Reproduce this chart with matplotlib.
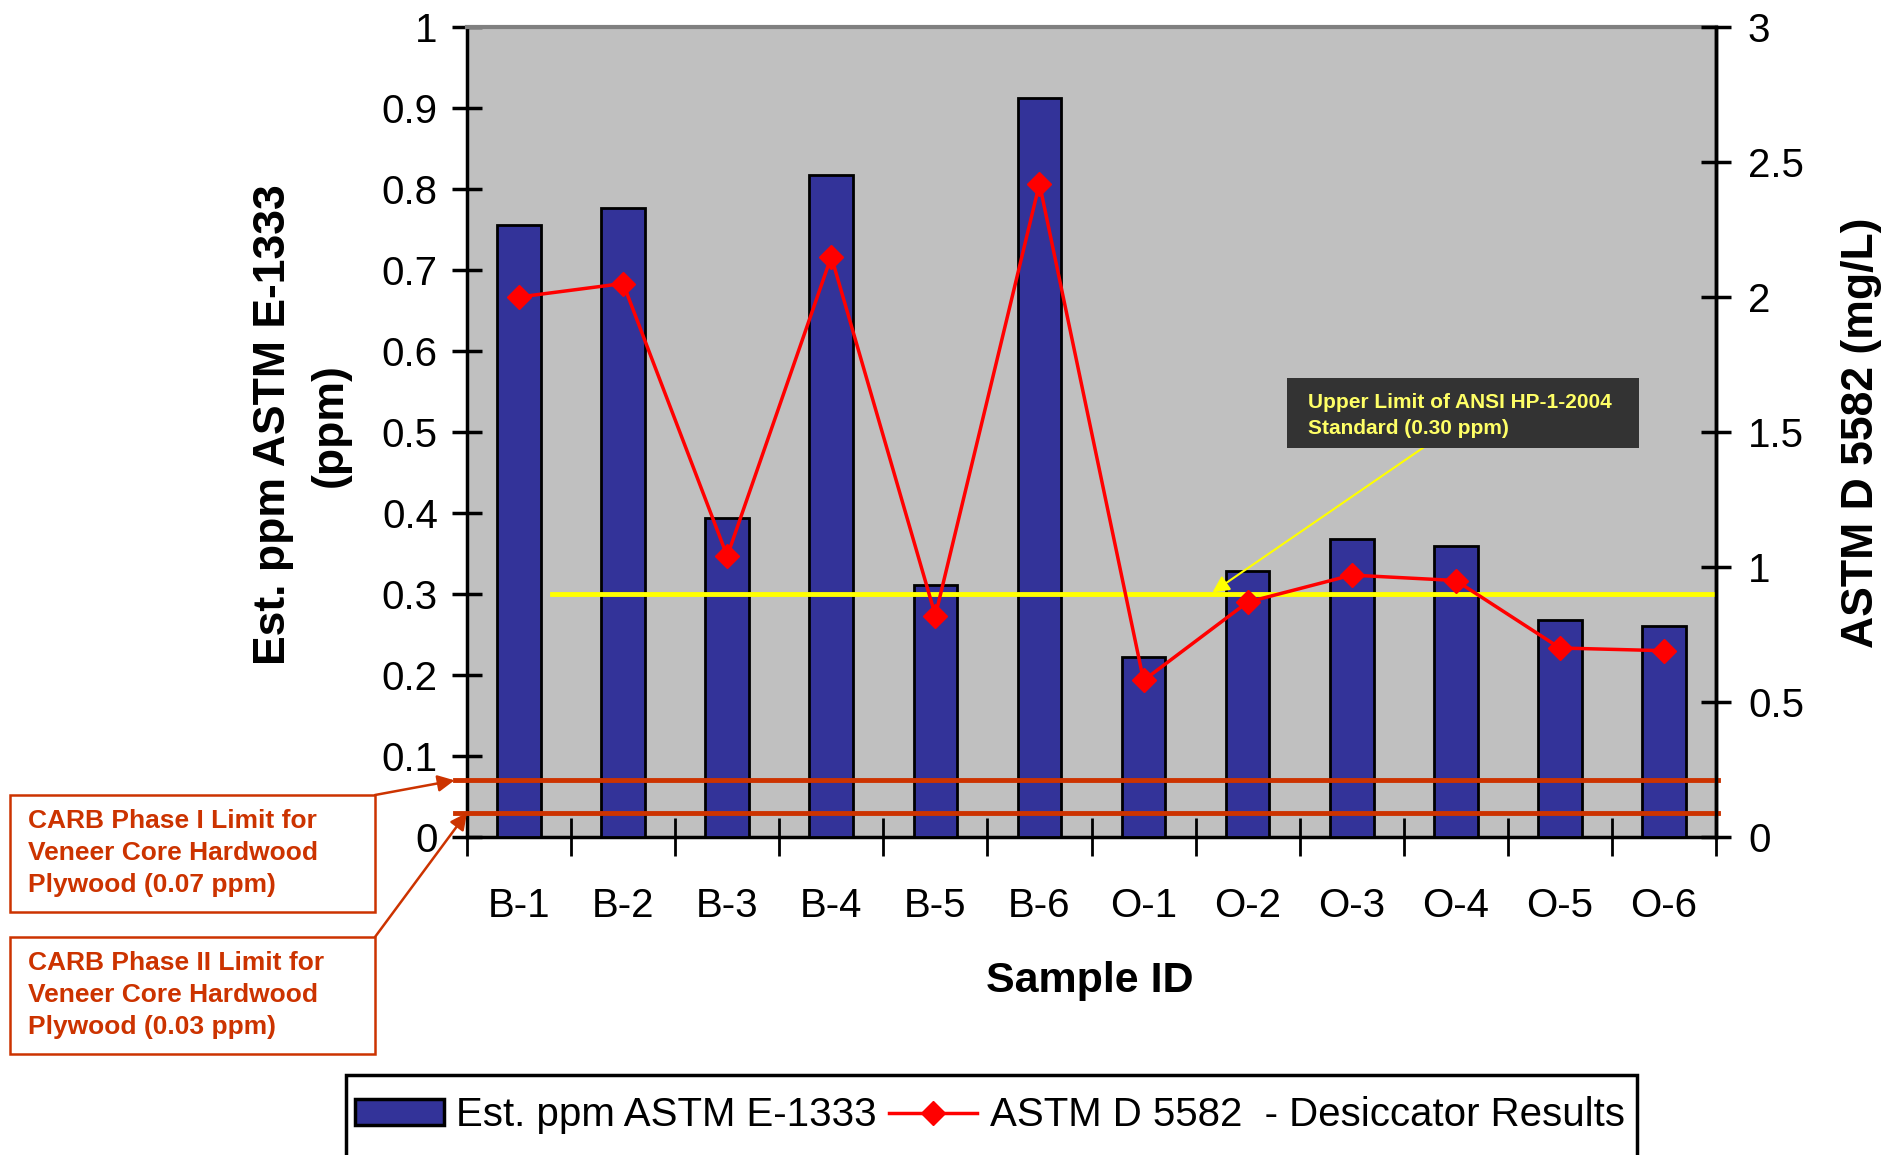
import matplotlib
matplotlib.use('Agg')
import matplotlib.pyplot as plt
from matplotlib import font_manager
from matplotlib.patches import Rectangle, Patch
from matplotlib.lines import Line2D
import numpy as np

# --- data ---
samples = ['B-1', 'B-2', 'B-3', 'B-4', 'B-5', 'B-6',
           'O-1', 'O-2', 'O-3', 'O-4', 'O-5', 'O-6']
est_ppm = [0.756, 0.777, 0.394, 0.817, 0.311, 0.912,
           0.222, 0.329, 0.368, 0.359, 0.268, 0.260]
desiccator = [2.00, 2.05, 1.04, 2.15, 0.82, 2.42,
              0.58, 0.87, 0.97, 0.95, 0.70, 0.69]
left_ticks = [0, 0.1, 0.2, 0.3, 0.4, 0.5, 0.6, 0.7, 0.8, 0.9, 1]
right_ticks = [0, 0.5, 1, 1.5, 2, 2.5, 3]
ansi_limit = 0.30
carb_phase1 = 0.07
carb_phase2 = 0.03

# narrow font for numbers / legend if available
def pick(fam, fallback):
    try:
        font_manager.findfont(fam, fallback_to_default=False)
        return fam
    except Exception:
        return fallback

narrow = pick('Liberation Sans Narrow', 'Liberation Sans')
bold_fam = pick('Liberation Sans', 'DejaVu Sans')
num_size = 33 if narrow == 'Liberation Sans Narrow' else 29

plt.rcParams['font.family'] = [bold_fam, 'DejaVu Sans']

W, H = 1904, 1155
fig = plt.figure(figsize=(W / 100, H / 100), dpi=100)
ax = fig.add_axes([467 / W, 1 - 837 / H, (1716 - 467) / W, (837 - 27) / H])
ax.set_facecolor('#C0C0C0')

x = np.arange(len(samples))
ax.bar(x, est_ppm, width=0.42, color='#333399', edgecolor='black', lw=2, zorder=3)
ax.set_xlim(-0.5, len(samples) - 0.5)
ax.set_ylim(0, 1)

ax.set_yticks(left_ticks)
ax.set_yticklabels([f'{v:g}' for v in left_ticks], fontfamily=narrow, fontsize=num_size)
ax.set_xticks(x)
ax.set_xticklabels(samples, fontfamily=narrow, fontsize=num_size)
ax.tick_params(axis='x', length=0, pad=36)
ax.set_xticks(np.arange(-0.5, len(samples), 1.0), minor=True)
ax.tick_params(axis='x', which='minor', direction='inout', length=28, width=2)
ax.tick_params(axis='y', direction='inout', length=22, width=2.5, pad=10)

for s in ['left', 'bottom', 'right']:
    ax.spines[s].set_linewidth(2.5)
ax.spines['top'].set_color('#808080')
ax.spines['top'].set_linewidth(3)

# limit lines
ax.plot([0.32, 11.5], [ansi_limit, ansi_limit], color='#FFFF00', lw=3.5, zorder=4)
for lim in (carb_phase1, carb_phase2):
    ax.plot([-0.62, 11.52], [lim, lim], color='#CC3300', lw=3.5, zorder=4, clip_on=False)

ax2 = ax.twinx()
ax2.plot(x, desiccator, color='#FF0000', lw=2.5, marker='D', markersize=12, zorder=5)
ax2.set_ylim(0, 3)
ax2.set_yticks(right_ticks)
ax2.set_yticklabels([f'{v:g}' for v in right_ticks], fontfamily=narrow, fontsize=num_size)
ax2.tick_params(axis='y', direction='inout', length=22, width=2.5, pad=12)
ax2.spines['right'].set_linewidth(2.5)
ax2.spines['top'].set_visible(False)
ax2.spines['left'].set_visible(False)
ax2.spines['bottom'].set_visible(False)

# axis titles
fig.text(273 / W, 1 - 425 / H, 'Est. ppm ASTM E-1333', rotation=90, ha='center', va='center',
         fontsize=32, fontweight='bold')
fig.text(330 / W, 1 - 425 / H, '(ppm)', rotation=90, ha='center', va='center',
         fontsize=32, fontweight='bold')
fig.text(1862 / W, 1 - 433 / H, 'ASTM D 5582 (mg/L)', rotation=90, ha='center', va='center',
         fontsize=32, fontweight='bold')
fig.text(1090 / W, 1 - 981 / H, 'Sample ID', ha='center', va='center',
         fontsize=31, fontweight='bold')

# ANSI callout
fig.patches.append(Rectangle((1287 / W, 1 - 448 / H), (1639 - 1287) / W, 70 / H,
                             transform=fig.transFigure, fc='#333333', ec='none', zorder=6))
fig.text(1308 / W, 1 - 402 / H, 'Upper Limit of ANSI HP-1-2004', color='#FFFF66',
         fontsize=15, fontweight='bold', va='center', zorder=7)
fig.text(1308 / W, 1 - 428 / H, 'Standard (0.30 ppm)', color='#FFFF66',
         fontsize=15, fontweight='bold', va='center', zorder=7)
ax.annotate('', xy=(6.64, ansi_limit), xycoords='data',
            xytext=(1430, H - 443), textcoords='figure pixels',
            arrowprops=dict(arrowstyle='-|>', color='#FFFF00', lw=1.5, mutation_scale=25),
            zorder=6)

# CARB callouts
carb_boxes = [
    (795, ['CARB Phase I Limit for', 'Veneer Core Hardwood', 'Plywood (0.07 ppm)'], (-0.62, carb_phase1)),
    (937, ['CARB Phase II Limit for', 'Veneer Core Hardwood', 'Plywood (0.03 ppm)'], (-0.5, carb_phase2)),
]
for top, lines, tip in carb_boxes:
    fig.patches.append(Rectangle((10 / W, 1 - (top + 117) / H), 365 / W, 117 / H,
                                 transform=fig.transFigure, fc='white', ec='#CC3300',
                                 lw=1.8, zorder=6))
    for i, line in enumerate(lines):
        fig.text(28 / W, 1 - (top + 26 + i * 32) / H, line, color='#CC3300',
                 fontsize=19, fontweight='bold', va='center', zorder=7)
    ax.annotate('', xy=tip, xycoords='data', xytext=(375, H - top),
                textcoords='figure pixels', annotation_clip=False,
                arrowprops=dict(arrowstyle='-|>', color='#CC3300', lw=1.8,
                                mutation_scale=25, shrinkA=0, shrinkB=0))

# legend
fig.patches.append(Rectangle((346 / W, -0.02), (1637 - 346) / W, (H - 1075) / H + 0.02,
                             transform=fig.transFigure, fc='white', ec='black', lw=2.5))
handles = [Patch(facecolor='#333399', edgecolor='black', lw=2.5),
           Line2D([], [], color='#FF0000', lw=2.5, marker='D', markersize=12)]
fig.legend(handles, ['Est. ppm ASTM E-1333', 'ASTM D 5582  - Desiccator Results'],
           ncol=2, loc='center', bbox_to_anchor=(990 / W, 1 - 1115 / H), frameon=False,
           prop={'family': narrow, 'size': num_size}, handlelength=2.2, handleheight=0.6,
           handletextpad=0.3, columnspacing=0.3)

fig.savefig('out.png', dpi=100)
